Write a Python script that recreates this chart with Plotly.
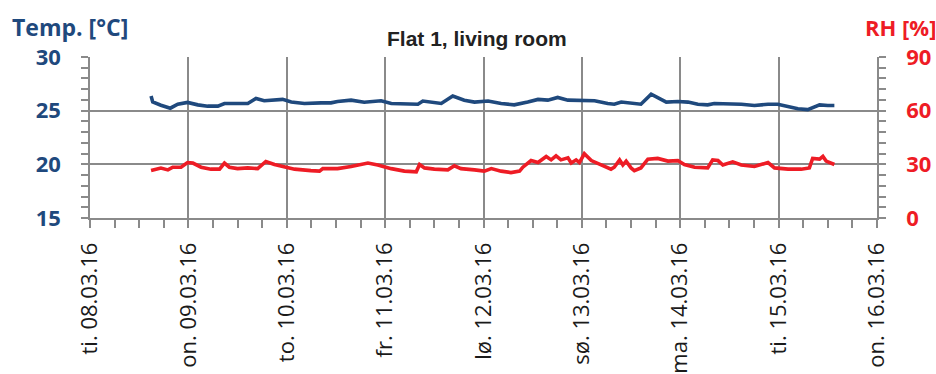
import pandas as pd
import plotly.graph_objects as go

# Day ticks along the time axis (Norwegian weekday abbreviations)
day_ticks = ["2016-03-08", "2016-03-09", "2016-03-10", "2016-03-11", "2016-03-12",
             "2016-03-13", "2016-03-14", "2016-03-15", "2016-03-16"]
day_labels = ["ti. 08.03.16", "on. 09.03.16", "to. 10.03.16", "fr. 11.03.16", "lø. 12.03.16",
              "sø. 13.03.16", "ma. 14.03.16", "ti. 15.03.16", "on. 16.03.16"]

# Temperature log: hours after 08.03.16 00:00 and °C
temp_hours = [14.9, 15.3, 17.3, 19.6, 21.4, 23.8, 26.3, 28.7, 31.2, 32.8, 38.5, 40.5, 42.5,
              45.0, 47.0, 49.1, 52.3, 56.4, 58.8, 60.4, 63.7, 66.9, 71.0, 73.5, 76.7, 80.0,
              81.2, 83.2, 85.7, 88.5, 91.3, 93.8, 97.1, 100.3, 103.5, 106.8, 109.3, 111.7,
              114.1, 116.6, 119.8, 123.1, 126.3, 127.9, 129.6, 132.0, 134.4, 136.9, 138.5,
              140.6, 143.4, 145.9, 148.3, 150.7, 152.3, 155.6, 158.9, 162.1, 165.4, 167.8,
              170.3, 172.7, 175.1, 178.0, 180.0, 181.6]
temp_values = [26.36, 25.82, 25.51, 25.23, 25.6, 25.77, 25.54, 25.42, 25.42, 25.67, 25.67,
               26.14, 25.92, 26.0, 26.05, 25.8, 25.67, 25.73, 25.73, 25.86, 25.98, 25.79,
               25.92, 25.67, 25.6, 25.6, 25.9, 25.8, 25.67, 26.36, 25.98, 25.8, 25.9, 25.67,
               25.54, 25.8, 26.05, 25.98, 26.23, 25.98, 25.92, 25.92, 25.67, 25.6, 25.8,
               25.73, 25.6, 26.54, 26.23, 25.8, 25.86, 25.8, 25.6, 25.54, 25.67, 25.67, 25.6,
               25.48, 25.6, 25.6, 25.35, 25.17, 25.1, 25.54, 25.48, 25.48]

# Relative humidity log: hours after 08.03.16 00:00 and %
rh_hours = [14.9, 17.3, 19.0, 20.2, 22.2, 23.8, 25.1, 27.1, 29.5, 31.6, 32.8, 34.0, 36.0,
            38.5, 40.9, 42.9, 45.0, 47.4, 49.9, 53.9, 56.0, 56.8, 60.4, 63.7, 67.8, 70.2,
            73.5, 76.7, 79.6, 80.4, 81.6, 84.0, 87.3, 88.9, 90.5, 93.8, 96.2, 97.9, 100.3,
            102.7, 104.8, 105.6, 106.8, 107.6, 109.3, 111.3, 112.5, 113.7, 114.9, 116.6,
            117.4, 118.6, 119.4, 120.6, 122.3, 124.7, 127.1, 127.9, 129.2, 130.0, 130.8,
            132.0, 132.8, 134.4, 136.1, 138.5, 141.0, 143.4, 145.0, 147.5, 150.7, 151.9,
            153.2, 154.4, 156.8, 158.9, 162.1, 165.4, 167.0, 170.3, 173.5, 175.5, 176.3,
            178.0, 178.8, 179.6, 181.6]
rh_values = [26.5, 27.9, 26.9, 28.4, 28.4, 31.0, 30.7, 28.4, 27.3, 27.3, 30.7, 28.4, 27.6,
             28.0, 27.6, 31.6, 29.9, 28.4, 27.3, 26.5, 26.2, 27.6, 27.6, 28.8, 30.7, 29.6,
             27.6, 26.2, 25.8, 29.9, 28.0, 27.3, 26.9, 29.2, 27.6, 26.9, 26.2, 27.6, 26.2,
             25.4, 26.2, 28.4, 30.3, 32.1, 31.0, 34.4, 32.5, 34.8, 32.5, 33.6, 30.7, 32.5,
             31.0, 35.9, 32.1, 29.6, 27.3, 28.4, 32.5, 29.6, 31.8, 28.0, 26.5, 28.0, 32.9,
             33.3, 31.8, 32.1, 29.9, 28.4, 28.0, 32.5, 32.1, 29.6, 31.4, 29.6, 28.8, 31.0,
             28.0, 27.3, 27.3, 28.0, 33.3, 32.9, 34.4, 31.8, 29.9]

start = pd.Timestamp("2016-03-08 00:00")
temp_time = start + pd.to_timedelta(temp_hours, unit="h")
rh_time = start + pd.to_timedelta(rh_hours, unit="h")

BLUE = "#1F497D"
RED = "#EE1C25"
GRID = "#8A8A8A"

fig = go.Figure()
fig.add_trace(go.Scatter(x=temp_time, y=temp_values, mode="lines",
                         line=dict(color=BLUE, width=3.6), yaxis="y", showlegend=False))
fig.add_trace(go.Scatter(x=rh_time, y=rh_values, mode="lines",
                         line=dict(color=RED, width=3.6), yaxis="y2", showlegend=False))

fig.update_layout(
    width=936, height=374,
    margin=dict(l=90, r=59, t=57, b=156),
    paper_bgcolor="white", plot_bgcolor="white",
    xaxis=dict(
        type="date", range=[day_ticks[0], day_ticks[-1]], automargin=False,
        tickmode="array", tickvals=day_ticks, ticktext=day_labels, tickangle=-90,
        tickfont=dict(family="Open Sans", size=22, color="#1A1A1A"),
        ticks="outside", ticklen=8, tickwidth=1.5, tickcolor=GRID,
        ticklabelstandoff=6,
        showgrid=True, gridcolor=GRID, gridwidth=1.5,
        showline=True, linecolor=GRID, linewidth=1.5,
        minor=dict(tickmode="linear", tick0="2016-03-08", dtick=6 * 3600 * 1000,
                   ticks="outside", ticklen=8, tickwidth=1.5, tickcolor=GRID, showgrid=False),
        zeroline=False,
    ),
    yaxis=dict(
        range=[15, 30], tickmode="linear", tick0=15, dtick=5, automargin=False,
        tickfont=dict(family="Open Sans", size=22, color=BLUE, weight="bold"),
        ticks="outside", ticklen=7, tickwidth=1.5, tickcolor=GRID,
        ticklabelstandoff=16,
        showgrid=True, gridcolor=GRID, gridwidth=1.5,
        showline=True, linecolor=GRID, linewidth=1.5,
        minor=dict(dtick=1, ticks="outside", ticklen=7, tickwidth=1.5, tickcolor=GRID, showgrid=False),
        zeroline=False,
    ),
    yaxis2=dict(
        range=[0, 90], tickmode="linear", tick0=0, dtick=30, automargin=False,
        overlaying="y", side="right",
        tickfont=dict(family="Open Sans", size=22, color=RED, weight="bold"),
        ticks="outside", ticklen=7, tickwidth=1.5, tickcolor=GRID,
        ticklabelstandoff=16,
        showgrid=False,
        showline=True, linecolor=GRID, linewidth=1.5,
        minor=dict(dtick=6, ticks="outside", ticklen=7, tickwidth=1.5, tickcolor=GRID, showgrid=False),
        zeroline=False,
    ),
    annotations=[
        dict(text="Flat 1, living room", xref="paper", yref="paper", x=0.5, y=1,
             xanchor="center", yanchor="middle", xshift=-7, yshift=19, showarrow=False,
             font=dict(family="Liberation Sans", size=21, color="#222222", weight="bold")),
        dict(text="Temp. [°C]", xref="paper", yref="paper", x=0, y=1,
             xanchor="left", yanchor="middle", xshift=-80, yshift=30, showarrow=False,
             font=dict(family="Open Sans", size=23, color=BLUE, weight="bold")),
        dict(text="RH [%]", xref="paper", yref="paper", x=1, y=1,
             xanchor="right", yanchor="middle", xshift=61, yshift=30, showarrow=False,
             font=dict(family="Open Sans", size=22, color=RED, weight="bold")),
    ],
)

fig.write_html("out.html")
